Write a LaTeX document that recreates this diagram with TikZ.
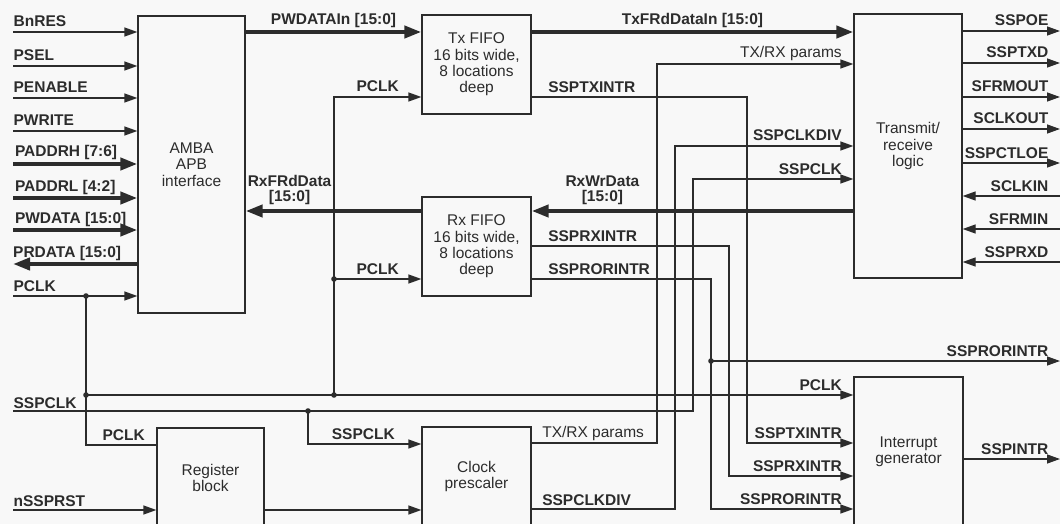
\documentclass[tikz,border=0pt]{standalone}
\usepackage{fontspec}
\setmainfont{Liberation Sans}
\usepackage{tikz}
\usetikzlibrary{arrows.meta}
\definecolor{inkgray}{HTML}{2C2C2C}
\definecolor{paperbg}{HTML}{F8F8F8}
\tikzset{
every picture/.style={line cap=butt,line join=miter},
>={Triangle[length=13pt,width=9pt]},
blockbox/.style={
  draw=inkgray,
  line width=1.3pt,
  inner sep=0pt,
  align=center,
  text=inkgray,
  font=\fontsize{15.5}{16.4}\selectfont
},
sig/.style={draw=inkgray, line width=1.3pt},
bus/.style={draw=inkgray, line width=4pt, -{Triangle[length=17pt,width=12pt]}},
sigl/.style={font=\fontsize{15.5}{15}\selectfont\bfseries, text=inkgray, inner sep=0pt, align=center},
plaintext/.style={font=\fontsize{15.5}{15}\selectfont},
lblw/.style={sigl, anchor=base west, yshift=#1},
lblw/.default=5pt,
lble/.style={sigl, anchor=base east, xshift=-#1, yshift=5pt},
lble/.default=11pt,
lbls/.style={sigl, anchor=base west, xshift=16pt, yshift=#1},
lbls/.default=5pt,
buslbl/.style={sigl, anchor=base, yshift=7pt}
}

\begin{document}
\begin{tikzpicture}[x=1pt,y=-1pt]
\useasboundingbox (0,0) rectangle (1060,524);
\fill[paperbg] (0,0) rectangle (1060,524);

% blocks
\node[blockbox, minimum width=107pt, minimum height=297pt] (amba) at (191.5,164.5) {AMBA\\APB\\interface};
\node[blockbox, minimum width=109pt, minimum height=99pt] (txfifo) at (476.5,64.5) {Tx FIFO\\16 bits wide,\\8 locations\\deep};
\node[blockbox, minimum width=109pt, minimum height=99pt] (rxfifo) at (476.5,246.5) {Rx FIFO\\16 bits wide,\\8 locations\\deep};
\node[blockbox, minimum width=108pt, minimum height=264pt] (trx) at (908,146) {Transmit/\\receive\\logic};
\node[blockbox, minimum width=107pt, minimum height=100pt] (regblk) at (210.5,478) {Register\\block};
\node[blockbox, minimum width=109pt, minimum height=99pt] (clkpre) at (476.5,476.5) {Clock\\prescaler};
\node[blockbox, minimum width=109pt, minimum height=149pt] (intgen) at (908.5,451.5) {Interrupt\\generator};

% APB side
\foreach \y/\t [count=\i] in {32/BnRES,66/PSEL,98/PENABLE,131/PWRITE} {
\coordinate (pin\i) at (13,\y);
\draw[sig,->] (pin\i) node[lblw] (lpin\i) {\t} -- (pin\i -| amba.west);
}
\foreach \y/\t [count=\i from 5] in {164/{PADDRH [7:6]},198/{PADDRL [4:2]},230/{PWDATA [15:0]}} {
\coordinate (pin\i) at (13,\y);
\draw[bus] (pin\i) node[lblw=7pt] (lpin\i) {\t} -- (pin\i -| amba.west);
}
\coordinate (prdata) at (13,264);
\draw[bus] (prdata -| amba.west) -- (prdata);
\node[lblw=7pt] (lprdata) at (prdata) {PRDATA [15:0]};

% data paths
\coordinate (ywr) at (0,32);
\coordinate (yrd) at (0,211);
\draw[bus] (amba.east |- ywr) -- node[buslbl] (lpwdin) {PWDATAIn [15:0]} (txfifo.west |- ywr);
\draw[bus] (txfifo.east |- ywr) -- node[buslbl] (ltxrd) {TxFRdDataIn [15:0]} (trx.west |- ywr);
\draw[bus] (trx.west |- yrd) -- node[pos=0.78, sigl, anchor=south, yshift=4pt] (lrxwr) {RxWrData\\{}[15:0]} (rxfifo.east |- yrd);
\draw[bus] (rxfifo.west |- yrd) -- node[pos=0.75, sigl, anchor=south, yshift=4pt] (lrxrd) {RxFRdData\\{}[15:0]} (amba.east |- yrd);

% PCLK
\coordinate (pclkin) at (13,296);
\coordinate (jpa) at (86,296);
\coordinate (jpb) at (86,395);
\coordinate (jpc) at (334,395);
\coordinate (jpd) at (334,279);
\coordinate (yregclk) at (0,445);
\coordinate (ytxclk) at (0,97);
\draw[sig,->] (pclkin) node[lblw] (lpclk) {PCLK} -- (pclkin -| amba.west);
\draw[sig] (jpa) -- (jpb) |- (regblk.west |- yregclk) node[lble] (lregclk) {PCLK};
\draw[sig,->] (jpb) -- (intgen.west |- jpb) node[lble] (lintclk) {PCLK};
\draw[sig,->] (jpc) |- (txfifo.west |- ytxclk) node[lble=22pt] (ltxclk) {PCLK};
\draw[sig,->] (jpd) -- (rxfifo.west |- jpd) node[lble=22pt] (lrxclk) {PCLK};

% SSPCLK
\coordinate (sspclkin) at (13,411);
\coordinate (jsa) at (308,411);
\coordinate (bendclk) at (693,411);
\coordinate (ytrxclk) at (0,179);
\coordinate (ycpclk) at (0,444);
\draw[sig,->] (sspclkin) node[lblw=3pt] (lsspclk) {SSPCLK} -- (bendclk) |- (trx.west |- ytrxclk) node[lble] (ltrxclk) {SSPCLK};
\draw[sig,->] (jsa) |- (clkpre.west |- ycpclk) node[lble=26pt] (lcpclk) {SSPCLK};

% reset and register block
\coordinate (nrst) at (13,510);
\draw[sig,->] (nrst) node[lblw=4pt] (lnrst) {nSSPRST} -- (nrst -| regblk.west);
\draw[sig,->] (regblk.east |- nrst) -- (clkpre.west |- nrst);

% prescaler outputs
\coordinate (cpparams) at (657,443);
\coordinate (cpdiv) at (675,509);
\coordinate (yparams) at (0,64);
\coordinate (ydiv) at (0,146);
\draw[sig,->] (clkpre.east |- cpparams) node[lbls=6pt, xshift=-6pt, plaintext] (lcpparams) {TX/RX params} -- (cpparams) |- (trx.west |- yparams) node[lble, plaintext, yshift=1pt] (lparams) {TX/RX params};
\draw[sig,->] (clkpre.east |- cpdiv) node[lbls=4pt, xshift=-6pt] (lcpdiv) {SSPCLKDIV} -- (cpdiv) |- (trx.west |- ydiv) node[lble] (ldiv) {SSPCLKDIV};

% interrupts
\coordinate (txi) at (747,97);
\coordinate (rxi) at (729,246);
\coordinate (rori) at (711,279);
\coordinate (jror) at (711,361);
\coordinate (yitx) at (0,443);
\coordinate (yirx) at (0,476);
\coordinate (yiror) at (0,509);
\draw[sig,->] (txfifo.east |- txi) node[lbls=4pt] (ltxi) {SSPTXINTR} -- (txi) |- (intgen.west |- yitx) node[lble] (litx) {SSPTXINTR};
\draw[sig,->] (rxfifo.east |- rxi) node[lbls] (lrxi) {SSPRXINTR} -- (rxi) |- (intgen.west |- yirx) node[lble] (lirx) {SSPRXINTR};
\draw[sig,->] (rxfifo.east |- rori) node[lbls] (lrori) {SSPRORINTR} -- (rori) |- (intgen.west |- yiror) node[lble] (liror) {SSPRORINTR};
\coordinate (rorout) at (1060,361);
\draw[sig,->] (jror) -- (rorout) node[lble] (lrorout) {SSPRORINTR};
\coordinate (intout) at (1060,459);
\draw[sig,->] (intgen.east |- intout) -- (intout) node[lble] (lintout) {SSPINTR};

% serial side
\foreach \y/\t [count=\i] in {31/SSPOE,63/SSPTXD,97/SFRMOUT,129/SCLKOUT,163/SSPCTLOE} {
\coordinate (sout\i) at (1060,\y);
\draw[sig,->] (sout\i -| trx.east) -- (sout\i) node[lble] (lsout\i) {\t};
}
\foreach \y/\t [count=\i] in {196/SCLKIN,229/SFRMIN,262/SSPRXD} {
\coordinate (sin\i) at (1060,\y);
\draw[sig,->] (sin\i) node[lble] (lsin\i) {\t} -- (sin\i -| trx.east);
}

% junctions
\foreach \p in {jpa,jpb,jpc,jpd,jsa,jror}
\fill[inkgray] (\p) circle (2.8pt);
\end{tikzpicture}
\end{document}
